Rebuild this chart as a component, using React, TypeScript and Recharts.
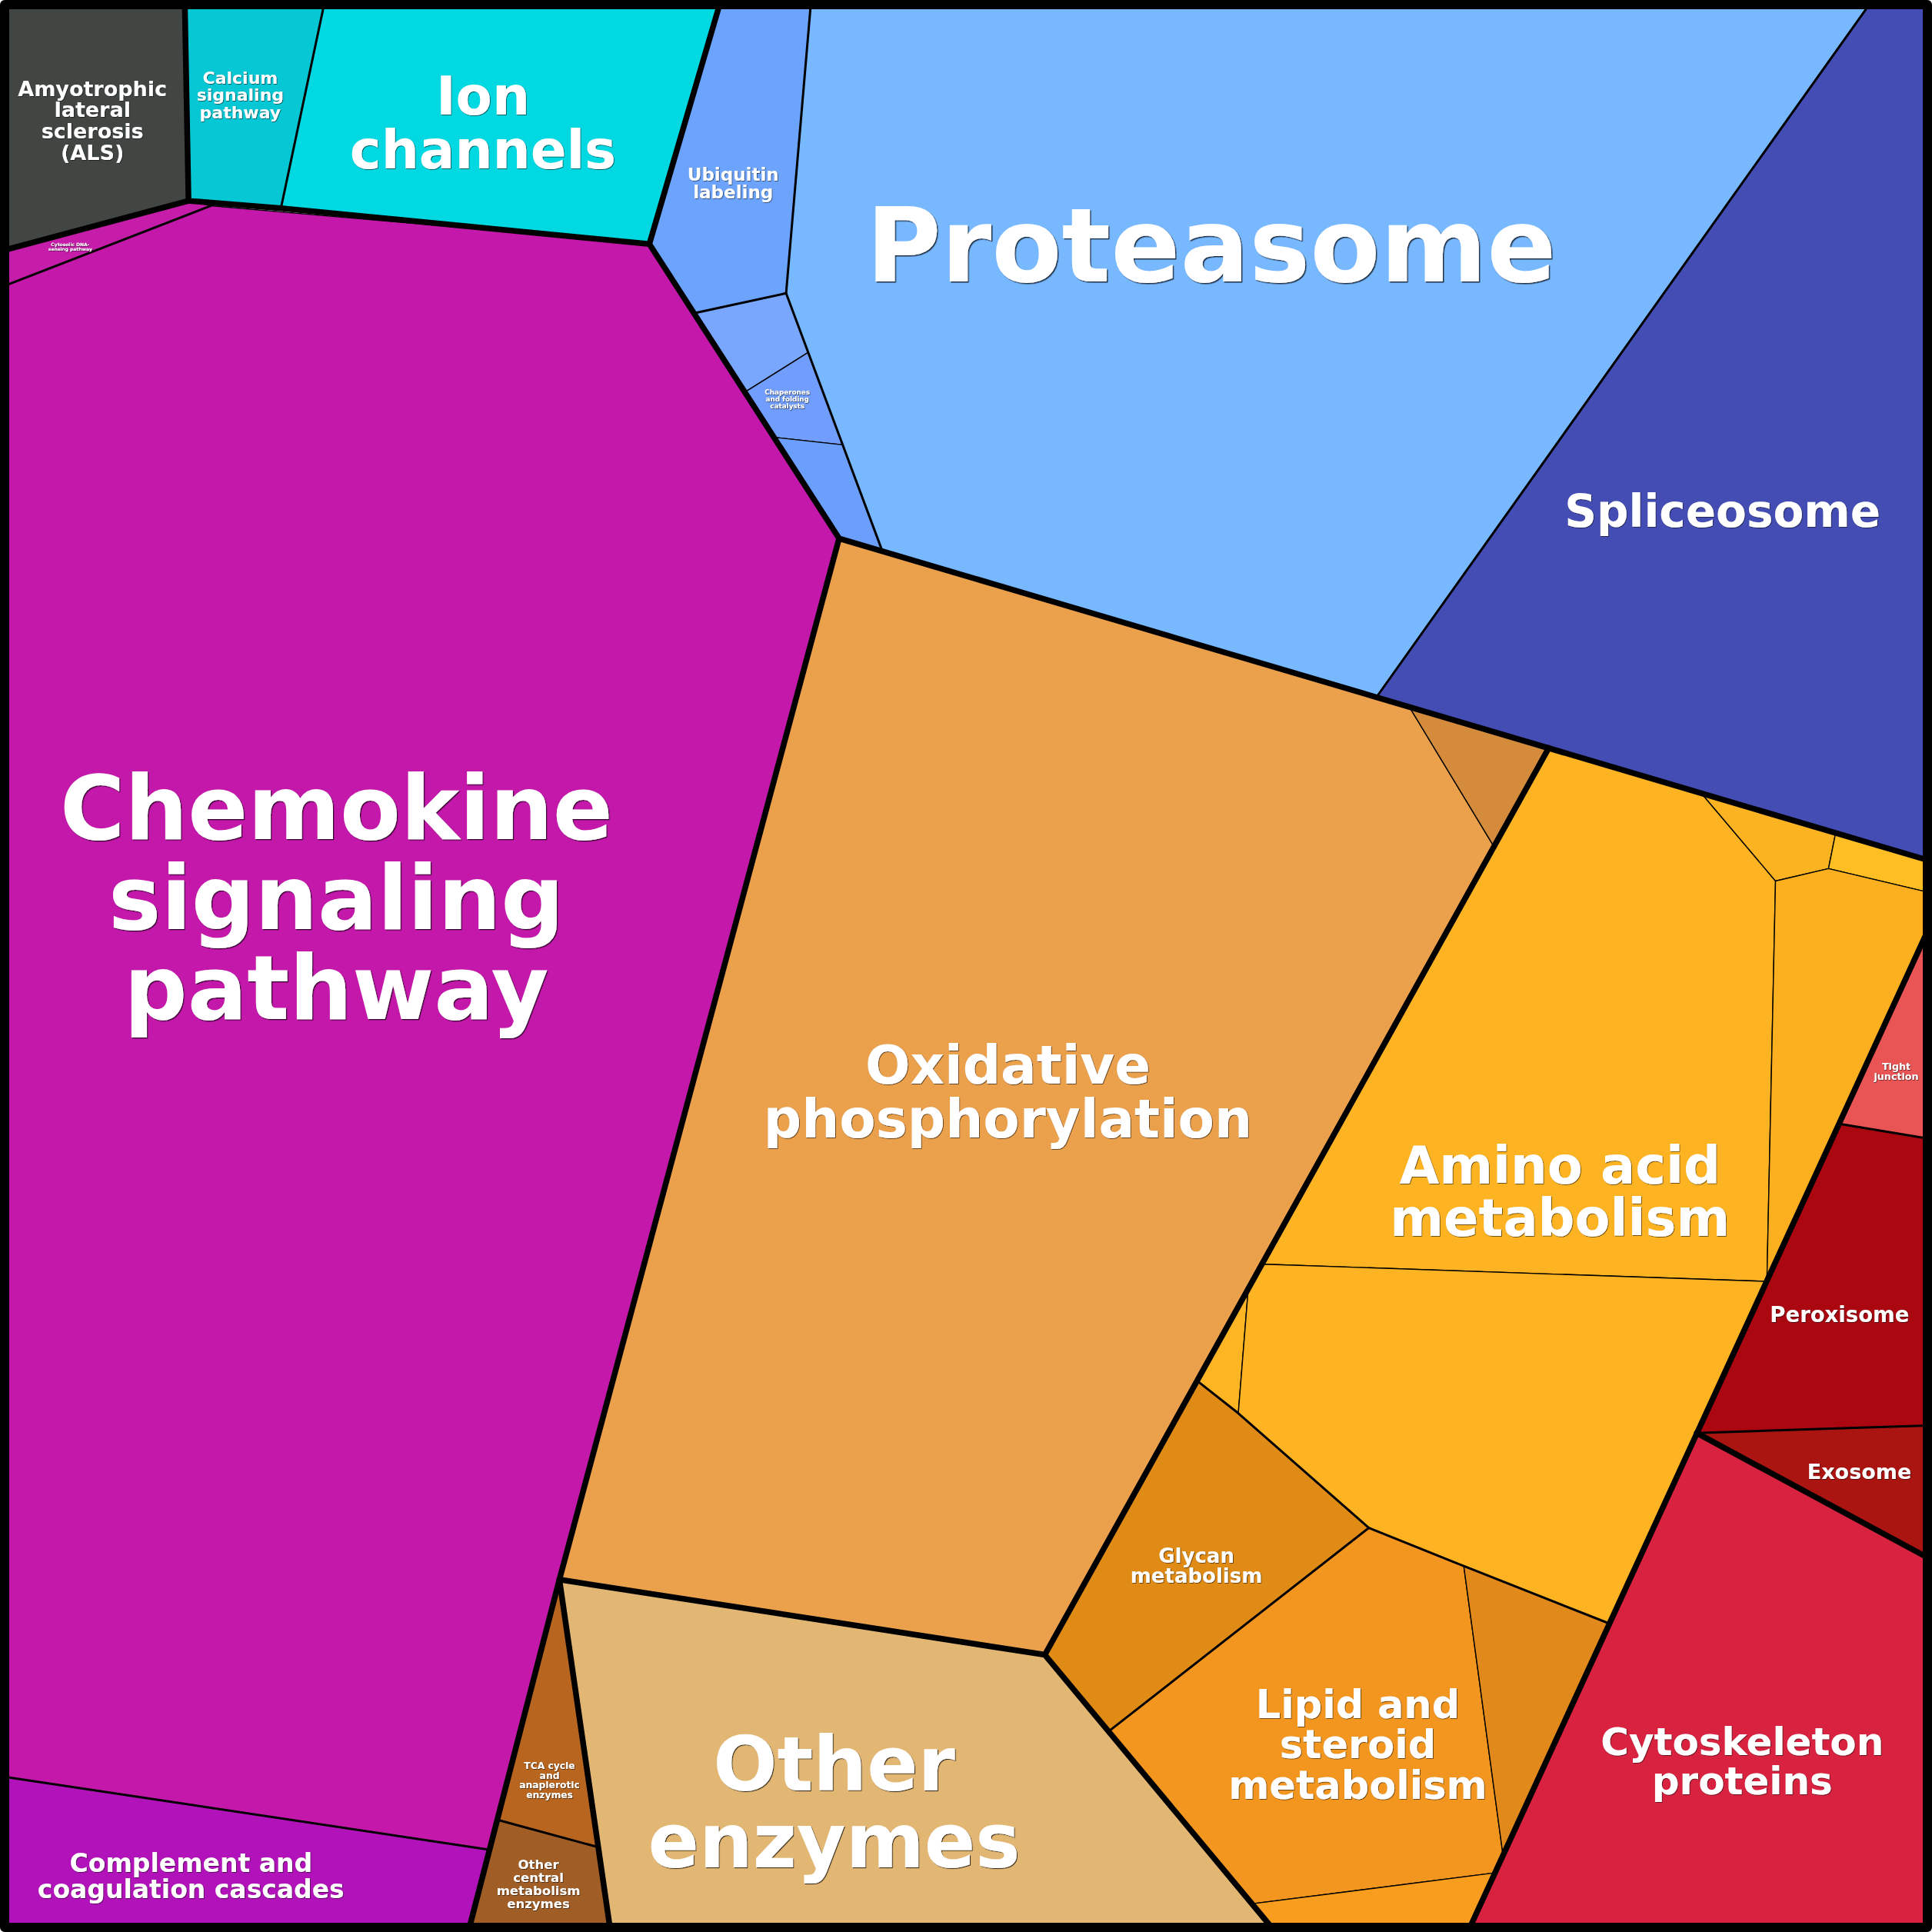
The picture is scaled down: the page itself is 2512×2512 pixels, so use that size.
import React from 'react';
import { ScatterChart, Scatter, XAxis, YAxis } from 'recharts';

const SIZE = 2512;
const DOMAIN = 1568;
const lo = 3.75;
const hi = 1564.25;

type P = [number, number];

// ---- cell polygons (voronoi treemap cells, in domain units) ----
const alsCell: P[] = [[lo, lo], [150, lo], [153, 163], [lo, 203]];
const calciumCell: P[] = [[150, lo], [263, lo], [228, 169], [153, 163]];
const ionCell: P[] = [[263, lo], [584, lo], [527, 198], [228, 169]];
const cytosolicCell: P[] = [[lo, 203], [153, 163], [171, 167], [lo, 232]];
const chemokineCell: P[] = [[lo, 232], [171, 167], [527, 198], [681, 437], [454, 1282], [396, 1501], [lo, 1442]];
const complementCell: P[] = [[lo, 1442], [396, 1501], [381, hi], [lo, hi]];
const tcaCell: P[] = [[454, 1282], [404, 1477], [485, 1499]];
const otherCentralCell: P[] = [[404, 1477], [485, 1499], [495, hi], [381, hi]];
const otherEnzymesCell: P[] = [[454, 1282], [848, 1343], [1032, hi], [495, hi]];
const oxidativeCell: P[] = [[681, 437], [1144, 574], [1213, 688], [848, 1343], [454, 1282]];
const oxidativeSmallCell: P[] = [[1144, 574], [1257, 607], [1213, 688]];
const ubiquitinCell: P[] = [[584, lo], [658, lo], [638, 238], [564, 254], [527, 198]];
const proteinSmallA: P[] = [[564, 254], [638, 238], [656, 286], [605, 318]];
const chaperonesCell: P[] = [[605, 318], [656, 286], [684, 361], [629, 355]];
const proteinSmallC: P[] = [[629, 355], [684, 361], [716, 447], [681, 437]];
const proteasomeCell: P[] = [[658, lo], [1517, lo], [1117, 566], [716, 447], [638, 238]];
const spliceosomeCell: P[] = [[1517, lo], [hi, lo], [hi, 698], [1117, 566]];
const aminoCell: P[] = [[1257, 607], [1381, 644], [1441, 715], [1434, 1040], [1026, 1026]];
const aminoSmallA: P[] = [[1381, 644], [1490, 675], [1484, 705], [1441, 715]];
const aminoSmallB: P[] = [[1490, 675], [hi, 698], [hi, 724], [1484, 705]];
const aminoSmallC: P[] = [[1441, 715], [1484, 705], [hi, 724], [hi, 756], [1434, 1040]];
const aminoSliver: P[] = [[1013, 1047], [972, 1121], [1005, 1147]];
const aminoLower: P[] = [[1026, 1026], [1434, 1040], [1307, 1318], [1188, 1271], [1111, 1240], [1005, 1147], [1013, 1047]];
const glycanCell: P[] = [[972, 1121], [1005, 1147], [1111, 1240], [900, 1405], [848, 1343]];
const lipidCell: P[] = [[1111, 1240], [1188, 1271], [1220, 1507], [1213, 1520], [1017, 1545], [900, 1405]];
const lipidSideCell: P[] = [[1188, 1271], [1307, 1318], [1220, 1507]];
const lipidBottomCell: P[] = [[1017, 1545], [1213, 1520], [1193, hi], [1032, hi]];
const tightCell: P[] = [[hi, 756], [hi, 924], [1492, 912]];
const peroxisomeCell: P[] = [[1492, 912], [hi, 924], [hi, 1157], [1377, 1163]];
const exosomeCell: P[] = [[1377, 1163], [hi, 1157], [hi, 1264]];
const cytoskeletonCell: P[] = [[1377, 1163], [hi, 1264], [hi, hi], [1193, hi]];

const cells: { id: string; pts: P[] }[] = [
  { id: 'als', pts: alsCell },
  { id: 'calcium', pts: calciumCell },
  { id: 'ion', pts: ionCell },
  { id: 'cytosolic', pts: cytosolicCell },
  { id: 'chemokine', pts: chemokineCell },
  { id: 'complement', pts: complementCell },
  { id: 'tca', pts: tcaCell },
  { id: 'otherCentral', pts: otherCentralCell },
  { id: 'otherEnzymes', pts: otherEnzymesCell },
  { id: 'oxidative', pts: oxidativeCell },
  { id: 'oxidativeSmall', pts: oxidativeSmallCell },
  { id: 'ubiquitin', pts: ubiquitinCell },
  { id: 'proteinSmallA', pts: proteinSmallA },
  { id: 'chaperones', pts: chaperonesCell },
  { id: 'proteinSmallC', pts: proteinSmallC },
  { id: 'proteasome', pts: proteasomeCell },
  { id: 'spliceosome', pts: spliceosomeCell },
  { id: 'amino', pts: aminoCell },
  { id: 'aminoSmallA', pts: aminoSmallA },
  { id: 'aminoSmallB', pts: aminoSmallB },
  { id: 'aminoSmallC', pts: aminoSmallC },
  { id: 'aminoSliver', pts: aminoSliver },
  { id: 'aminoLower', pts: aminoLower },
  { id: 'glycan', pts: glycanCell },
  { id: 'lipid', pts: lipidCell },
  { id: 'lipidSide', pts: lipidSideCell },
  { id: 'lipidBottom', pts: lipidBottomCell },
  { id: 'tight', pts: tightCell },
  { id: 'peroxisome', pts: peroxisomeCell },
  { id: 'exosome', pts: exosomeCell },
  { id: 'cytoskeleton', pts: cytoskeletonCell },
];

// ---- group boundaries ----
const thickA: P[] = [[lo, 203], [153, 163], [228, 169], [527, 198], [681, 437], [454, 1282], [381, hi]];
const thickB: P[] = [[150, lo], [153, 163]];
const thickC: P[] = [[584, lo], [527, 198]];
const thickD: P[] = [[681, 437], [hi, 698]];
const thickE: P[] = [[1257, 607], [848, 1343]];
const thickF: P[] = [[454, 1282], [848, 1343], [1032, hi]];
const thickG: P[] = [[454, 1282], [495, hi]];
const thickH: P[] = [[hi, 756], [1193, hi]];
const thickI: P[] = [[1377, 1163], [hi, 1264]];
const thickLines = [thickA, thickB, thickC, thickD, thickE, thickF, thickG, thickH, thickI];

const midA: P[] = [[658, lo], [638, 238], [716, 447]];
const midB: P[] = [[564, 254], [638, 238]];
const midC: P[] = [[1517, lo], [1117, 566]];
const midD: P[] = [[lo, 232], [171, 167]];
const midE: P[] = [[lo, 1442], [396, 1501]];
const midF: P[] = [[404, 1477], [485, 1499]];
const midG: P[] = [[972, 1121], [1005, 1147], [1111, 1240], [1188, 1271], [1307, 1318]];
const midH: P[] = [[1111, 1240], [900, 1405]];
const midI: P[] = [[1492, 912], [hi, 924]];
const midJ: P[] = [[1377, 1163], [hi, 1157]];
const midK: P[] = [[263, lo], [228, 169]];
const midLines = [midA, midB, midC, midD, midE, midF, midG, midH, midI, midJ, midK];

const frame: P[] = [[lo, lo], [hi, lo], [hi, hi], [lo, hi]];

// ---- labels ----
const labelIds = [
  'als', 'calcium', 'ion', 'ubiquitin', 'proteasome', 'spliceosome', 'chemokine', 'oxidative',
  'amino', 'tight', 'peroxisome', 'exosome', 'glycan', 'lipid', 'cytoskeleton', 'otherEnzymes',
  'complement', 'tca', 'otherCentral', 'chaperones', 'cytosolic',
];
const labelText: Record<string, string[]> = {
  als: ['Amyotrophic', 'lateral', 'sclerosis', '(ALS)'],
  calcium: ['Calcium', 'signaling', 'pathway'],
  ion: ['Ion', 'channels'],
  ubiquitin: ['Ubiquitin', 'labeling'],
  proteasome: ['Proteasome'],
  spliceosome: ['Spliceosome'],
  chemokine: ['Chemokine', 'signaling', 'pathway'],
  oxidative: ['Oxidative', 'phosphorylation'],
  amino: ['Amino acid', 'metabolism'],
  tight: ['Tight', 'junction'],
  peroxisome: ['Peroxisome'],
  exosome: ['Exosome'],
  glycan: ['Glycan', 'metabolism'],
  lipid: ['Lipid and', 'steroid', 'metabolism'],
  cytoskeleton: ['Cytoskeleton', 'proteins'],
  otherEnzymes: ['Other', 'enzymes'],
  complement: ['Complement and', 'coagulation cascades'],
  tca: ['TCA cycle', 'and', 'anaplerotic', 'enzymes'],
  otherCentral: ['Other', 'central', 'metabolism', 'enzymes'],
  chaperones: ['Chaperones', 'and folding', 'catalysts'],
  cytosolic: ['Cytosolic DNA-', 'sensing pathway'],
};
const labelAnchor: Record<string, P> = {
  als: [75, 97.5],
  calcium: [195, 77],
  ion: [392, 100],
  ubiquitin: [595, 149],
  proteasome: [983, 200],
  spliceosome: [1398, 415],
  chemokine: [273, 729],
  oxidative: [818, 886.5],
  amino: [1266, 967.5],
  tight: [1539, 869],
  peroxisome: [1493, 1067],
  exosome: [1509, 1194],
  glycan: [971, 1271],
  lipid: [1102, 1416],
  cytoskeleton: [1414, 1430],
  otherEnzymes: [677, 1463],
  complement: [155, 1522.5],
  tca: [446, 1445],
  otherCentral: [437, 1529],
  chaperones: [639, 324],
  cytosolic: [57, 200],
};

// ---- styles ----
const cellFill: Record<string, string> = {
  als: '#414643', calcium: '#06c8d4', ion: '#00d9e2', cytosolic: '#c51ca9', chemokine: '#c418ab',
  complement: '#b212b9', tca: '#b8651f', otherCentral: '#a05d25', otherEnzymes: '#e2b774',
  oxidative: '#eba04c', oxidativeSmall: '#d48c3c', ubiquitin: '#6ba3fd', proteinSmallA: '#79a7fd',
  chaperones: '#719dfc', proteinSmallC: '#6b9ffb', proteasome: '#78b8ff', spliceosome: '#434db3',
  amino: '#feb422', aminoSmallA: '#fcb322', aminoSmallB: '#ffbf24', aminoSmallC: '#fdb01f',
  aminoSliver: '#feb524', aminoLower: '#fdb322', glycan: '#e08b15', lipid: '#f39620',
  lipidSide: '#e2891b', lipidBottom: '#f99d1e', tight: '#e95455', peroxisome: '#ab0710',
  exosome: '#aa1512', cytoskeleton: '#d8223f',
};
const labelSize: Record<string, number> = {
  als: 27, calcium: 22, ion: 69, ubiquitin: 23, proteasome: 133, spliceosome: 58, chemokine: 115,
  oxidative: 69, amino: 67, tight: 12.7, peroxisome: 27.5, exosome: 27, glycan: 26, lipid: 51,
  cytoskeleton: 50, otherEnzymes: 98, complement: 33, tca: 12.3, otherCentral: 16.5,
  chaperones: 8.8, cytosolic: 6,
};

const toXY = (pts: P[]) => pts.map(([x, y]) => ({ x, y }));
const labelData = labelIds.map((id) => ({ id, x: labelAnchor[id][0], y: labelAnchor[id][1] }));

const noShape = () => <g />;

const pathLine = (fill: string, stroke: string, sw: number, closed: boolean) => (props: any) => {
  const pts: { x: number; y: number }[] = (props && props.points) || [];
  if (!pts.length) return <g />;
  const d = pts.map((p, i) => `${i ? 'L' : 'M'}${p.x},${p.y}`).join('') + (closed ? 'Z' : '');
  return (
    <path d={d} fill={fill} stroke={stroke} strokeWidth={sw} strokeLinejoin="round" strokeLinecap="round" />
  );
};

const LabelShape = (props: any) => {
  const { cx, cy, payload } = props;
  if (cx == null || cy == null || !payload) return <g />;
  const id = payload.id as string;
  const lines = labelText[id];
  const fs = labelSize[id];
  const lh = fs * 1.02;
  const off = Math.max(0.7, fs * 0.011);
  const n = lines.length;
  const fid = 'shadow-' + id;
  return (
    <g>
      <defs>
        <filter id={fid} x="-10%" y="-20%" width="120%" height="140%">
          <feDropShadow dx={off} dy={off} stdDeviation={off * 0.35} floodColor="#000000" floodOpacity={0.75} />
        </filter>
      </defs>
      <text
        x={cx}
        y={cy}
        fill="#ffffff"
        fontFamily='"DejaVu Sans", Verdana, sans-serif'
        fontWeight={700}
        fontSize={fs}
        textAnchor="middle"
        dominantBaseline="central"
        filter={`url(#${fid})`}
      >
        {lines.map((t, i) => (
          <tspan key={i} x={cx} y={cy + (i - (n - 1) / 2) * lh}>
            {t}
          </tspan>
        ))}
      </text>
    </g>
  );
};

export default function App() {
  return (
    <div style={{ width: SIZE, height: SIZE, background: '#ffffff' }}>
      <style>{'body{margin:0;}'}</style>
      <ScatterChart width={SIZE} height={SIZE} margin={{ top: 0, right: 0, bottom: 0, left: 0 }}>
        <XAxis type="number" dataKey="x" domain={[0, DOMAIN]} allowDataOverflow hide />
        <YAxis type="number" dataKey="y" domain={[0, DOMAIN]} allowDataOverflow reversed hide />
        {cells.map((c) => (
          <Scatter
            key={c.id}
            data={toXY(c.pts)}
            isAnimationActive={false}
            shape={noShape}
            lineType="joint"
            line={pathLine(cellFill[c.id], '#000000', 1.4, true)}
          />
        ))}
        {midLines.map((m, i) => (
          <Scatter
            key={'mid' + i}
            data={toXY(m)}
            isAnimationActive={false}
            shape={noShape}
            lineType="joint"
            line={pathLine('none', '#000000', 3, false)}
          />
        ))}
        {thickLines.map((m, i) => (
          <Scatter
            key={'thick' + i}
            data={toXY(m)}
            isAnimationActive={false}
            shape={noShape}
            lineType="joint"
            line={pathLine('none', '#000000', 7.5, false)}
          />
        ))}
        <Scatter
          data={toXY(frame)}
          isAnimationActive={false}
          shape={noShape}
          lineType="joint"
          line={pathLine('none', '#000000', 12, true)}
        />
        <Scatter data={labelData} isAnimationActive={false} shape={LabelShape} />
      </ScatterChart>
    </div>
  );
}
